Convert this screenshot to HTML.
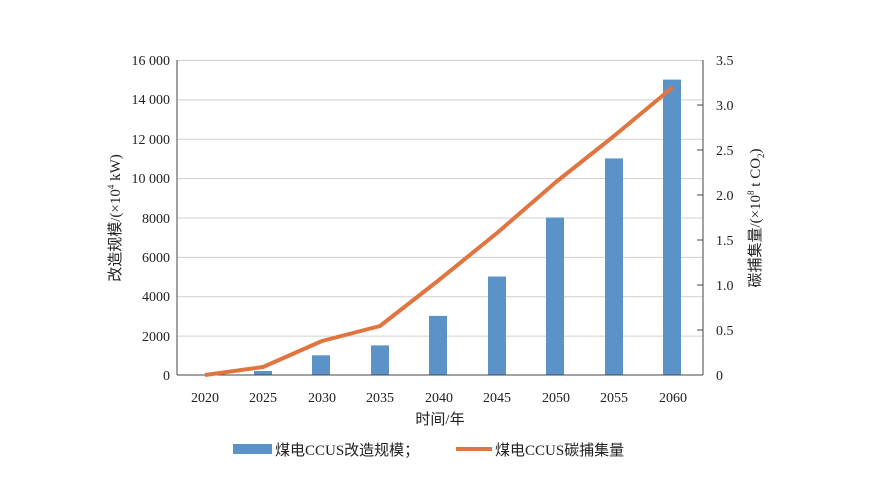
<!DOCTYPE html>
<html><head><meta charset="utf-8"><style>
body{margin:0;background:#fff}
svg{display:block}
text{font-family:"Liberation Serif","Noto Serif CJK SC",serif;fill:#222}
.c{font-family:"Liberation Serif","Noto Sans CJK SC",sans-serif}
</style></head><body>
<svg width="879" height="501" viewBox="0 0 879 501" xmlns="http://www.w3.org/2000/svg">
<g stroke="#d0d0d0" stroke-width="1">
<line x1="177" y1="60.5" x2="703" y2="60.5"/>
<line x1="177" y1="99.9" x2="703" y2="99.9"/>
<line x1="177" y1="139.3" x2="703" y2="139.3"/>
<line x1="177" y1="178.6" x2="703" y2="178.6"/>
<line x1="177" y1="218" x2="703" y2="218"/>
<line x1="177" y1="257.4" x2="703" y2="257.4"/>
<line x1="177" y1="296.8" x2="703" y2="296.8"/>
<line x1="177" y1="336.1" x2="703" y2="336.1"/>
</g>
<g fill="#5b93c9">
<rect x="254" y="371" width="18" height="4"/>
<rect x="312" y="355.3" width="18" height="19.7"/>
<rect x="371" y="345.4" width="18" height="29.6"/>
<rect x="429" y="315.9" width="18" height="59.1"/>
<rect x="488" y="276.5" width="18" height="98.5"/>
<rect x="546" y="217.5" width="18" height="157.5"/>
<rect x="605" y="158.4" width="18" height="216.6"/>
<rect x="663" y="79.6" width="18" height="295.4"/>
</g>
<line x1="177" y1="60" x2="177" y2="375" stroke="#444"/>
<line x1="703" y1="60" x2="703" y2="375" stroke="#444"/>
<line x1="177" y1="375" x2="703" y2="375" stroke="#444"/>
<g stroke="#444">
<line x1="697" y1="105" x2="703" y2="105"/><line x1="697" y1="150" x2="703" y2="150"/>
<line x1="697" y1="195" x2="703" y2="195"/><line x1="697" y1="240" x2="703" y2="240"/>
<line x1="697" y1="285" x2="703" y2="285"/><line x1="697" y1="330" x2="703" y2="330"/>
</g>
<polyline fill="none" stroke="#e07540" stroke-width="4" stroke-linejoin="round" points="205,375 263,367 322,341 380,326 439,280 497,233 556,182 614,136 673,87"/>
<g font-size="14" text-anchor="end">
<text x="170" y="65">16 000</text><text x="170" y="104">14 000</text><text x="170" y="144">12 000</text>
<text x="170" y="183">10 000</text><text x="170" y="223">8000</text><text x="170" y="262">6000</text>
<text x="170" y="301">4000</text><text x="170" y="341">2000</text><text x="170" y="380">0</text>
</g>
<g font-size="14">
<text x="716" y="65">3.5</text><text x="716" y="110">3.0</text><text x="716" y="155">2.5</text>
<text x="716" y="200">2.0</text><text x="716" y="245">1.5</text><text x="716" y="290">1.0</text>
<text x="716" y="335">0.5</text><text x="716" y="380">0</text>
</g>
<g font-size="14" text-anchor="middle">
<text x="205" y="402">2020</text><text x="263" y="402">2025</text><text x="322" y="402">2030</text>
<text x="380" y="402">2035</text><text x="439" y="402">2040</text><text x="497" y="402">2045</text>
<text x="556" y="402">2050</text><text x="614" y="402">2055</text><text x="673" y="402">2060</text>
</g>
<text class="c" x="440" y="424" font-size="15" text-anchor="middle">时间/年</text>
<text class="c" font-size="15" text-anchor="middle" transform="translate(120,218) rotate(-90)">改造规模/(×10<tspan font-size="9" dy="-6">4</tspan><tspan dy="6"> kW)</tspan></text>
<text class="c" font-size="15" text-anchor="middle" transform="translate(760,218) rotate(-90)">碳捕集量/(×10<tspan font-size="9" dy="-6">8</tspan><tspan dy="6"> t CO</tspan><tspan font-size="9" dy="4">2</tspan><tspan dy="-4">)</tspan></text>
<rect x="233" y="444" width="39" height="10" fill="#5b93c9"/>
<text class="c" x="275" y="455" font-size="15">煤电CCUS改造规模；</text>
<line x1="456" y1="449" x2="492" y2="449" stroke="#e07540" stroke-width="4"/>
<text class="c" x="495" y="455" font-size="15">煤电CCUS碳捕集量</text>
</svg>
</body></html>
